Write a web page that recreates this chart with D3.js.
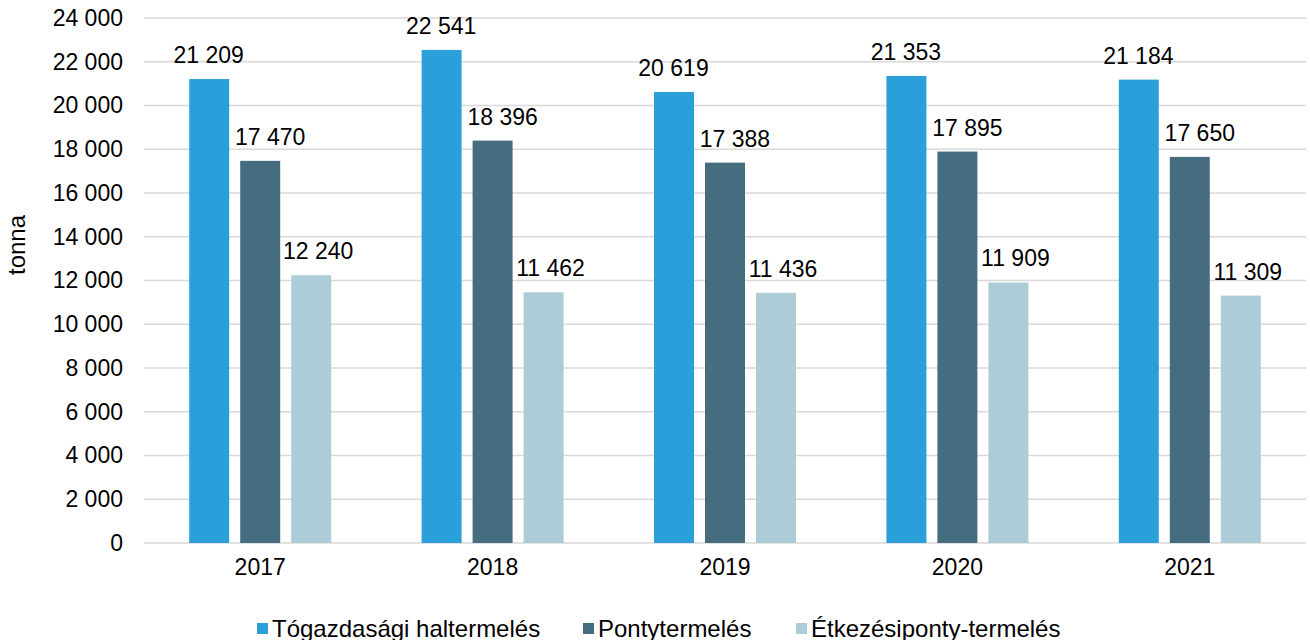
<!DOCTYPE html>
<html>
<head>
<meta charset="utf-8">
<script src="https://cdn.jsdelivr.net/npm/d3@7"></script>
<style>
  body { margin: 0; background: #fff; }
  text { font-family: "Liberation Sans", Arial, sans-serif; fill: #000; }
</style>
</head>
<body>
<div id="chart"></div>
<script>
var years = ["2017", "2018", "2019", "2020", "2021"];
var seriesNames = ["Tógazdasági haltermelés", "Pontytermelés", "Étkezésiponty-termelés"];
var togazdasagi = [21209, 22541, 20619, 21353, 21184];
var ponty = [17470, 18396, 17388, 17895, 17650];
var etkezesi = [12240, 11462, 11436, 11909, 11309];
var yTicks = [0, 2000, 4000, 6000, 8000, 10000, 12000, 14000, 16000, 18000, 20000, 22000, 24000];
var colors = ["#2b9fda", "#466c80", "#acccd8"];

var fmt = function(v) { return d3.format(",")(v).replace(/,/g, " "); };

var svg = d3.select("#chart").append("svg")
    .attr("width", 1310)
    .attr("height", 640);

var plotLeft = 144, plotRight = 1306, plotTop = 18, plotBottom = 543;
var fontSize = "23px";
var labelShift = [-0.5, 10, 7]; // labels sit a bit right of the dark and light bars

var x0 = d3.scaleBand().domain(years).range([plotLeft, plotRight]).paddingInner(0.389).paddingOuter(0.1945);
var x1 = d3.scaleBand().domain(d3.range(3)).range([0, x0.bandwidth()]).paddingInner(0.216);
var y = d3.scaleLinear().domain([0, 24000]).range([plotBottom, plotTop]);

// gridlines
svg.append("g").selectAll("line")
    .data(yTicks)
    .enter().append("line")
    .attr("x1", plotLeft).attr("x2", plotRight)
    .attr("y1", function(d) { return y(d); })
    .attr("y2", function(d) { return y(d); })
    .attr("stroke", "#d9d9d9")
    .attr("stroke-width", 1.3);

// y axis labels
var yAxis = svg.append("g")
    .attr("transform", "translate(" + plotLeft + ",0)")
    .call(d3.axisLeft(y).tickValues(yTicks).tickFormat(fmt).tickSize(0).tickPadding(21));
yAxis.select(".domain").remove();
yAxis.selectAll("text").attr("font-size", fontSize).attr("font-family", "Liberation Sans, Arial, sans-serif").attr("fill", "#000");

svg.append("text")
    .attr("transform", "translate(25," + 245 + ") rotate(-90)")
    .attr("text-anchor", "middle")
    .attr("font-size", "24px")
    .text("tonna");

// x axis labels
var xAxis = svg.append("g")
    .attr("transform", "translate(0," + plotBottom + ")")
    .call(d3.axisBottom(x0).tickSize(0).tickPadding(16));
xAxis.select(".domain").remove();
xAxis.selectAll("text").attr("font-size", fontSize).attr("font-family", "Liberation Sans, Arial, sans-serif").attr("fill", "#000");

var rows = years.map(function(yr, i) {
  return { year: yr, values: [togazdasagi[i], ponty[i], etkezesi[i]] };
});

var groups = svg.append("g").selectAll("g")
    .data(rows)
    .enter().append("g")
    .attr("transform", function(d) { return "translate(" + x0(d.year) + ",0)"; });

groups.selectAll("rect")
    .data(function(d) { return d.values; })
    .enter().append("rect")
    .attr("x", function(d, i) { return x1(i); })
    .attr("y", function(d) { return y(d); })
    .attr("width", x1.bandwidth())
    .attr("height", function(d) { return plotBottom - y(d); })
    .attr("fill", function(d, i) { return colors[i]; });

groups.selectAll("text.val")
    .data(function(d) { return d.values; })
    .enter().append("text")
    .attr("class", "val")
    .attr("x", function(d, i) { return x1(i) + x1.bandwidth() / 2 + labelShift[i]; })
    .attr("y", function(d) { return y(d) - 16; })
    .attr("text-anchor", "middle")
    .attr("font-size", fontSize)
    .text(function(d) { return fmt(d); });

// legend
var legendX = [257, 583, 796];
var legend = svg.append("g").selectAll("g")
    .data(seriesNames)
    .enter().append("g")
    .attr("transform", function(d, i) { return "translate(" + legendX[i] + ",623)"; });
legend.append("rect")
    .attr("width", 11).attr("height", 11)
    .attr("fill", function(d, i) { return colors[i]; });
legend.append("text")
    .attr("x", 15).attr("y", 14)
    .attr("font-size", "24px")
    .text(function(d) { return d; });
</script>
</body>
</html>
